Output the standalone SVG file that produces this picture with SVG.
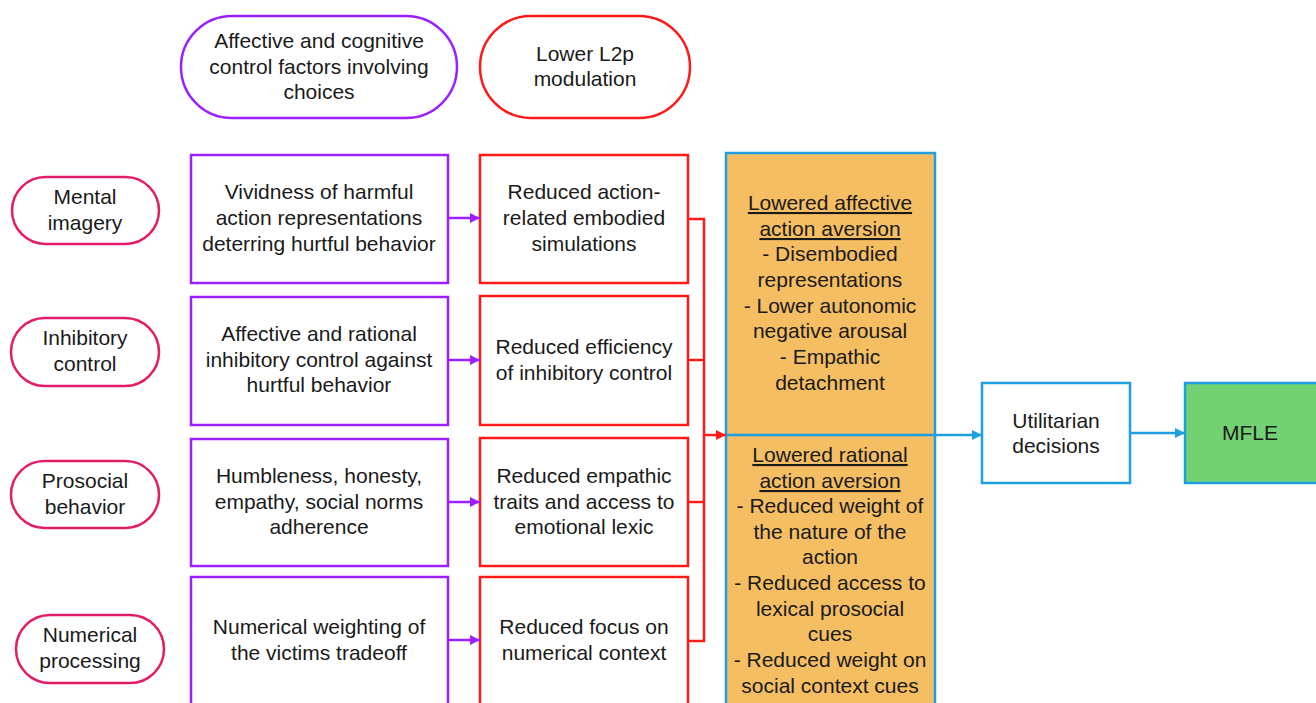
<svg xmlns="http://www.w3.org/2000/svg" width="1316" height="703" viewBox="0 0 1316 703">
<defs>
<style>
text{font-family:"Liberation Sans",Arial,sans-serif;font-size:21px;fill:#1a1a1a;text-anchor:middle}
.pu{fill:#fff;stroke:#9B1FFF;stroke-width:2.5}
.rd{fill:#fff;stroke:#FF1A1A;stroke-width:2.5}
.pk{fill:#fff;stroke:#E31C69;stroke-width:2.5}
.bl{stroke:#1E9FE0;stroke-width:2.5}
.u{text-decoration:underline}
</style>
<marker id="ap" viewBox="0 0 10 10" refX="10" refY="5" markerWidth="10" markerHeight="10" markerUnits="userSpaceOnUse" orient="auto"><path d="M0,0L10,5L0,10z" fill="#9B1FFF"/></marker>
<marker id="ar" viewBox="0 0 10 10" refX="10" refY="5" markerWidth="10" markerHeight="10" markerUnits="userSpaceOnUse" orient="auto"><path d="M0,0L10,5L0,10z" fill="#FF1A1A"/></marker>
<marker id="ab" viewBox="0 0 10 10" refX="10" refY="5" markerWidth="10" markerHeight="10" markerUnits="userSpaceOnUse" orient="auto"><path d="M0,0L10,5L0,10z" fill="#1E9FE0"/></marker>
</defs>
<rect width="1316" height="703" fill="#fff"/>

<g id="hdr-affective">
<rect class="pu" x="181" y="16" width="276" height="102" rx="51"/>
<text x="319" y="48">Affective and cognitive</text>
<text x="319" y="74">control factors involving</text>
<text x="319" y="99">choices</text>
</g>
<g id="hdr-l2p">
<rect class="rd" x="480" y="16" width="210" height="102" rx="51"/>
<text x="585" y="61">Lower L2p</text>
<text x="585" y="86">modulation</text>
</g>

<g id="mental-imagery">
<rect class="pk" x="12" y="177" width="147" height="67" rx="33.5"/>
<text x="85" y="204">Mental</text>
<text x="85" y="230">imagery</text>
</g>
<g id="inhibitory-control">
<rect class="pk" x="11" y="318" width="148" height="68" rx="34"/>
<text x="85" y="345">Inhibitory</text>
<text x="85" y="371">control</text>
</g>
<g id="prosocial-behavior">
<rect class="pk" x="11" y="461" width="148" height="67" rx="33.5"/>
<text x="85" y="488">Prosocial</text>
<text x="85" y="514">behavior</text>
</g>
<g id="numerical-processing">
<rect class="pk" x="16" y="615" width="148" height="68" rx="34"/>
<text x="90" y="642">Numerical</text>
<text x="90" y="668">processing</text>
</g>

<g id="p1">
<rect class="pu" x="191" y="155" width="257" height="128"/>
<text x="319" y="199">Vividness of harmful</text>
<text x="319" y="225">action representations</text>
<text x="319" y="251">deterring hurtful behavior</text>
</g>
<g id="p2">
<rect class="pu" x="191" y="297" width="257" height="128"/>
<text x="319" y="341">Affective and rational</text>
<text x="319" y="367">inhibitory control against</text>
<text x="319" y="392">hurtful behavior</text>
</g>
<g id="p3">
<rect class="pu" x="191" y="439" width="257" height="127"/>
<text x="319" y="483">Humbleness, honesty,</text>
<text x="319" y="509">empathy, social norms</text>
<text x="319" y="534">adherence</text>
</g>
<g id="p4">
<rect class="pu" x="191" y="577" width="257" height="140"/>
<text x="319" y="634">Numerical weighting of</text>
<text x="319" y="660">the victims tradeoff</text>
</g>

<g id="r1">
<rect class="rd" x="480" y="155" width="208" height="128"/>
<text x="584" y="199">Reduced action-</text>
<text x="584" y="225">related embodied</text>
<text x="584" y="251">simulations</text>
</g>
<g id="r2">
<rect class="rd" x="480" y="296" width="208" height="129"/>
<text x="584" y="354">Reduced efficiency</text>
<text x="584" y="380">of inhibitory control</text>
</g>
<g id="r3">
<rect class="rd" x="480" y="438" width="208" height="128"/>
<text x="584" y="483">Reduced empathic</text>
<text x="584" y="509">traits and access to</text>
<text x="584" y="534">emotional lexic</text>
</g>
<g id="r4">
<rect class="rd" x="480" y="577" width="208" height="140"/>
<text x="584" y="634">Reduced focus on</text>
<text x="584" y="660">numerical context</text>
</g>

<g id="aversion">
<rect x="726" y="153" width="209" height="570" fill="#F5BE63" class="bl"/>
<text x="830" y="210" class="u">Lowered affective</text>
<text x="830" y="236" class="u">action aversion</text>
<text x="830" y="261">- Disembodied</text>
<text x="830" y="287">representations</text>
<text x="830" y="313">- Lower autonomic</text>
<text x="830" y="338">negative arousal</text>
<text x="830" y="364">- Empathic</text>
<text x="830" y="390">detachment</text>
<text x="830" y="462" class="u">Lowered rational</text>
<text x="830" y="488" class="u">action aversion</text>
<text x="830" y="513">- Reduced weight of</text>
<text x="830" y="539">the nature of the</text>
<text x="830" y="564">action</text>
<text x="830" y="590">- Reduced access to</text>
<text x="830" y="616">lexical prosocial</text>
<text x="830" y="641">cues</text>
<text x="830" y="667">- Reduced weight on</text>
<text x="830" y="693">social context cues</text>
</g>

<g id="utilitarian">
<rect x="982" y="383" width="148" height="100" fill="#fff" class="bl"/>
<text x="1056" y="428">Utilitarian</text>
<text x="1056" y="453">decisions</text>
</g>
<g id="mfle">
<rect x="1185" y="383" width="140" height="100" fill="#72D172" class="bl"/>
<text x="1250" y="440">MFLE</text>
</g>

<g id="connectors" fill="none">
<g stroke="#9B1FFF" stroke-width="2.5">
<path d="M448,218H480" marker-end="url(#ap)"/>
<path d="M448,360H480" marker-end="url(#ap)"/>
<path d="M448,502H480" marker-end="url(#ap)"/>
<path d="M448,640H480" marker-end="url(#ap)"/>
</g>
<g stroke="#FF1A1A" stroke-width="2.5">
<path d="M688,219H704V641H688"/>
<path d="M688,360H704"/>
<path d="M688,502H704"/>
<path d="M704,435H726" marker-end="url(#ar)"/>
</g>
<g stroke="#1E9FE0" stroke-width="2.5">
<path d="M726,435H982" marker-end="url(#ab)"/>
<path d="M1130,433H1185" marker-end="url(#ab)"/>
</g>
</g>
</svg>
